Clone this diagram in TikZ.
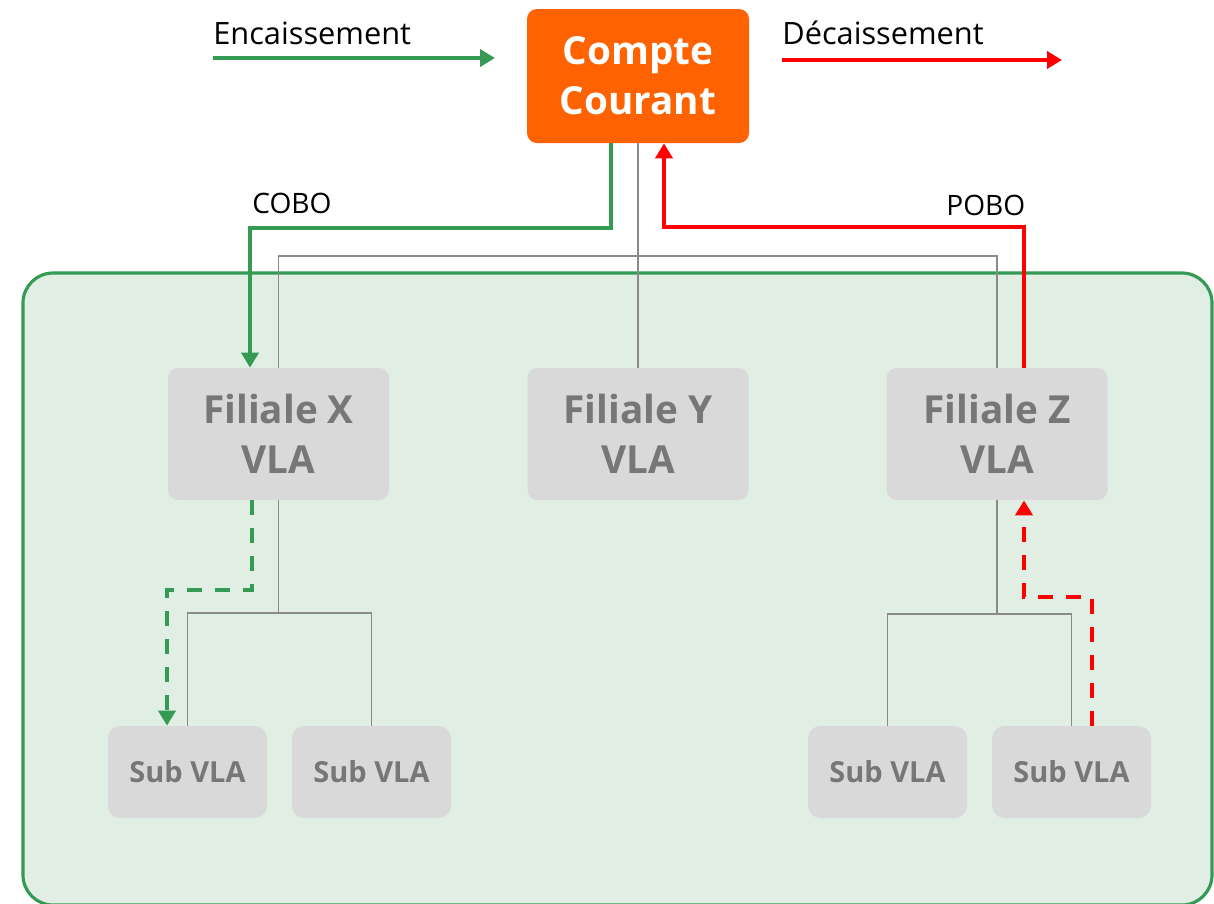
\documentclass[tikz,border=0pt]{standalone}
\usepackage{fontspec}
\setmainfont{Open Sans}
\usepackage{xcolor}
\usepackage{tikz}
\usetikzlibrary{arrows.meta}
\definecolor{orange}{HTML}{FF6200}
\definecolor{green}{HTML}{349A54}
\definecolor{red}{HTML}{FF0000}
\definecolor{zone}{HTML}{E0EEE4}
\definecolor{boxbg}{HTML}{D9D9D9}
\definecolor{boxtext}{HTML}{777777}
\definecolor{line}{HTML}{8A8A8A}
\tikzset{
  frame/.style={draw=green, fill=zone, line width=1.8pt, rounded corners=0.6cm},
  main/.style={fill=orange, text=white, rounded corners=0.2cm, align=center,
    minimum width=4.44cm, minimum height=2.68cm, font=\fontsize{22}{28.5}\selectfont\bfseries},
  fil/.style={fill=boxbg, text=boxtext, rounded corners=0.2cm, align=center,
    minimum width=4.42cm, minimum height=2.64cm, font=\fontsize{22}{28.5}\selectfont\bfseries},
  sub/.style={fill=boxbg, text=boxtext, rounded corners=0.25cm,
    minimum width=3.18cm, minimum height=1.84cm, font=\fontsize{16.5}{19}\selectfont\bfseries},
  tree/.style={draw=line, line width=0.7pt},
  cobo/.style={draw=green, line width=2.3pt, -{Triangle[width=0.34cm,length=0.3cm]}},
  pobo/.style={draw=red, line width=2.3pt, -{Triangle[width=0.34cm,length=0.3cm]}},
  flow/.style={dash pattern=on 0.3cm off 0.26cm},
  lab/.style={text=black, font=\fontsize{16}{19}\selectfont, inner sep=0pt},
  leg/.style={lab, font=\fontsize{17.5}{20}\selectfont},
}
\begin{document}
\begin{tikzpicture}
  \useasboundingbox (0,0) rectangle (24.28,-18.06);
  \draw[frame] (0.46,-5.46) rectangle (24.24,-18.1);

  \node[main] (cc) at (12.76,-1.52) {Compte\\Courant};
  \node[fil] (fX) at (5.57,-8.68) {Filiale X\\VLA};
  \node[fil] (fY) at (12.76,-8.68) {Filiale Y\\VLA};
  \node[fil] (fZ) at (19.94,-8.68) {Filiale Z\\VLA};
  \node[sub] (sX1) at (3.75,-15.44) {Sub VLA};
  \node[sub] (sX2) at (7.43,-15.44) {Sub VLA};
  \node[sub] (sZ1) at (17.75,-15.44) {Sub VLA};
  \node[sub] (sZ2) at (21.43,-15.44) {Sub VLA};

  % tree
  \coordinate (busT) at (12.76,-5.12);
  \coordinate (busX) at (5.57,-12.26);
  \coordinate (busZ) at (19.94,-12.28);
  \draw[tree] (cc.south) -- (fY.north);
  \draw[tree] (fX.north) |- (busT) -| (fZ.north);
  \draw[tree] (fX.south) -- (busX);
  \draw[tree] (sX1.north) |- (busX) -| (sX2.north);
  \draw[tree] (fZ.south) -- (busZ);
  \draw[tree] (sZ1.north) |- (busZ) -| (sZ2.north);

  % legend
  \coordinate (encA) at (4.26,-1.16);
  \coordinate (encB) at (9.9,-1.16);
  \coordinate (decA) at (15.64,-1.2);
  \coordinate (decB) at (21.24,-1.2);
  \node[leg, anchor=base west] (enc) at (4.26,-0.88) {Encaissement};
  \node[leg, anchor=base west] (dec) at (15.64,-0.88) {Décaissement};
  \draw[cobo] (encA) -- (encB);
  \draw[pobo] (decA) -- (decB);

  % flows
  \draw[cobo] ([xshift=-0.54cm]cc.south) -- ++(0,-1.7) -| ([xshift=-0.57cm]fX.north);
  \draw[pobo] ([xshift=0.54cm]fZ.north) -- ++(0,2.82) -| ([xshift=0.52cm]cc.south);
  \draw[cobo, flow] ([xshift=-0.53cm]fX.south) -- ++(0,-1.8) -| ([xshift=-0.41cm]sX1.north);
  \draw[pobo, flow] ([xshift=0.41cm]sZ2.north) -- ++(0,2.58) -| ([xshift=0.54cm]fZ.south);
  \node[lab, anchor=base west] (cobo) at (5.04,-4.26) {COBO};
  \node[lab, anchor=base west] (pobo) at (18.92,-4.3) {POBO};
\end{tikzpicture}
\end{document}
